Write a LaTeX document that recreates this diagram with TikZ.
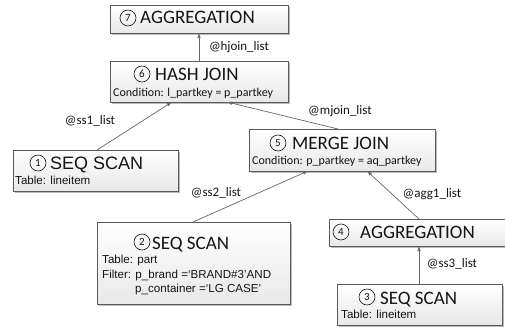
\documentclass[tikz,border=0pt]{standalone}
\usepackage{fontspec}
\setmainfont{Carlito}
\newfontfamily\arialf{Liberation Sans}
\usetikzlibrary{arrows.meta,shadows}

\definecolor{boxline}{HTML}{5A5A5A}
\definecolor{wire}{HTML}{666666}
\definecolor{ink}{HTML}{141414}

\tikzset{
  opbox/.style={rectangle, draw=boxline, line width=0.8pt, inner sep=0pt,
    top color=white, bottom color=black!9,
    drop shadow={shadow xshift=1.6pt, shadow yshift=-1.6pt, fill=black!45, opacity=0.6}},
  numcirc/.style={circle, draw=ink, line width=0.6pt, inner sep=0pt,
    minimum size=16pt, text=ink, font=\fontsize{11}{11}\selectfont},
  title/.style={anchor=base west, inner sep=0pt, text=ink, font=\fontsize{19}{19}\selectfont},
  atitle/.style={anchor=base west, inner sep=0pt, text=ink, font=\arialf\fontsize{18}{18}\selectfont},
  cond/.style={anchor=base west, inner sep=0pt, text=ink, font=\fontsize{12}{12}\selectfont},
  detail/.style={anchor=base west, inner sep=0pt, text=ink, font=\arialf\fontsize{11.6}{11.6}\selectfont},
  lbl/.style={inner sep=0pt, text=ink, font=\fontsize{13}{13}\selectfont},
  link/.style={draw=wire, line width=0.7pt, -{Latex[length=5pt,width=3.6pt]}},
}

\begin{document}
\begin{tikzpicture}[x=1pt,y=-1pt]
\useasboundingbox (0,0) rectangle (505,329);

% operator boxes
\node[opbox, minimum width=178pt, minimum height=28pt] (b7) at (199,19) {};
\node[opbox, minimum width=178pt, minimum height=41pt] (b6) at (199,81.5) {};
\node[opbox, minimum width=165pt, minimum height=41pt] (b1) at (95.5,170.5) {};
\node[opbox, minimum width=186pt, minimum height=42pt] (b5) at (342,150) {};
\node[opbox, minimum width=193pt, minimum height=82pt] (b2) at (193.5,263) {};
\node[opbox, minimum width=180pt, minimum height=27pt] (b4) at (419,232.5) {};
\node[opbox, minimum width=165pt, minimum height=41pt] (b3) at (419.5,304.5) {};

% box 7
\node[numcirc] (c7) at (128,18) {7};
\node[title] (t7) at (140,24) {AGGREGATION};

% box 6
\node[numcirc] (c6) at (142,74) {6};
\node[title] (t6) at (155,80) {HASH JOIN};
\node[cond] (d6) at (113,96) {Condition: l\_partkey = p\_partkey};

% box 1
\node[numcirc] (c1) at (38,163) {1};
\node[atitle] (t1) at (50,169) {SEQ SCAN};
\node[detail] (d1) at (15,184) {Table: lineitem};

% box 5
\node[numcirc] (c5) at (278,143) {5};
\node[title] (t5) at (292,149) {MERGE JOIN};
\node[cond] (d5) at (252,164) {Condition: p\_partkey = aq\_partkey};

% box 2
\node[numcirc] (c2) at (142,242) {2};
\node[title] (t2) at (152,249) {SEQ SCAN};
\node[detail] (d2a) at (102,263) {Table: part};
\node[detail] (d2b) at (102,278) {Filter: p\_brand =‘BRAND\#3’AND};
\node[detail] (d2c) at (135,292) {p\_container =‘LG CASE’};

% box 4
\node[numcirc] (c4) at (341,232) {4};
\node[title] (t4) at (360,238) {AGGREGATION};

% box 3
\node[numcirc] (c3) at (367,297) {3};
\node[title] (t3) at (380,304) {SEQ SCAN};
\node[detail] (d3) at (341,318) {Table: lineitem};

% connector end points on the box borders
\coordinate (p7s) at (199,33);
\coordinate (p6n) at (199,61);
\coordinate (p6sl) at (172,102);
\coordinate (p6sr) at (227,102);
\coordinate (p1n) at (97,150);
\coordinate (p5n) at (338,129);
\coordinate (p5sl) at (308,171);
\coordinate (p5sr) at (367,171);
\coordinate (p2n) at (193,222);
\coordinate (p4n) at (419,219);
\coordinate (p4s) at (419,246);
\coordinate (p3n) at (419,284);

% connectors
\draw[link] (p6n) -- (p7s);
\draw[link] (p1n) -- (p6sl);
\draw[link] (p5n) -- (p6sr);
\draw[link] (p2n) -- (p5sl);
\draw[link] (p4n) -- (p5sr);
\draw[link] (p3n) -- (p4s);

% connector labels
\node[lbl] (l76) at (239,47) {@hjoin\_list};
\node[lbl] (l61) at (90,121) {@ss1\_list};
\node[lbl] (l65) at (340,111) {@mjoin\_list};
\node[lbl] (l52) at (216,193) {@ss2\_list};
\node[lbl] (l54) at (432,194) {@agg1\_list};
\node[lbl] (l43) at (452,264) {@ss3\_list};
\end{tikzpicture}
\end{document}
